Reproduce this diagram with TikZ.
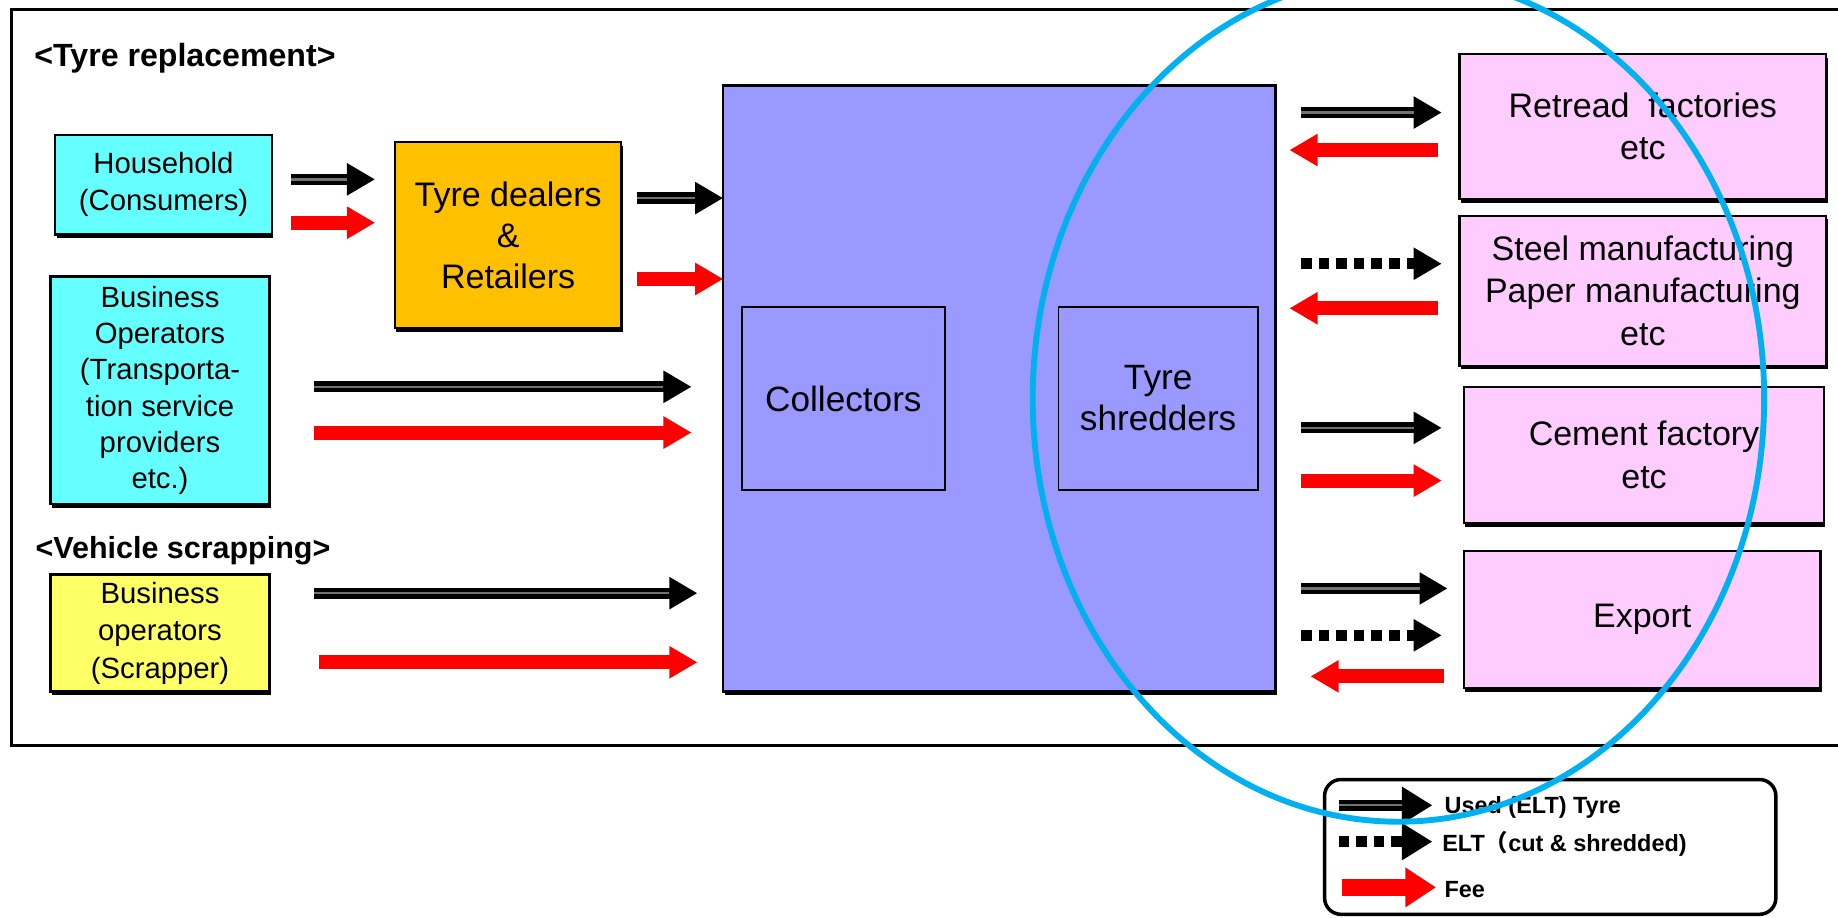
\documentclass[tikz,border=0pt]{standalone}
\usepackage{fontspec}
\setmainfont{Liberation Sans}
\newfontfamily\cjkfont{Noto Sans CJK JP}
\usetikzlibrary{arrows.meta,shadows}
\definecolor{cyanbox}{HTML}{66FFFF}
\definecolor{orangebox}{HTML}{FFC000}
\definecolor{yellowbox}{HTML}{FFFF66}
\definecolor{purplebox}{HTML}{9999FF}
\definecolor{pinkbox}{HTML}{FFCCFF}
\definecolor{ringblue}{HTML}{00B0F0}
\definecolor{feered}{HTML}{FF0000}
\begin{document}
\begin{tikzpicture}[x=0.5pt,y=-0.5pt,
  box/.style={draw=black, line width=1pt, align=center, inner sep=0pt,
    drop shadow={shadow xshift=0.6pt, shadow yshift=-1.6pt, fill=black, opacity=1}},
  inbox/.style={draw=black, line width=0.8pt, align=center, inner sep=0pt, fill=purplebox},
  leftfont/.style={font=\fontsize{12.5}{16}\selectfont},
  rightfont/.style={font=\fontsize{14.5}{18}\selectfont},
  usedarr/.style={draw=black, line width=4.8pt, -{Triangle[length=12pt,width=13pt]}},
  stripe/.style={draw=black!55, line width=1.1pt, shorten >=12pt},
  feearr/.style={draw=feered, line width=6pt, -{Triangle[length=12pt,width=13pt]}},
  eltarr/.style={draw=black, line width=4.5pt, dash pattern=on 4.5pt off 3pt, -{Triangle[length=12pt,width=13pt]}},
  heading/.style={anchor=west, inner sep=0pt, font=\bfseries\fontsize{13}{15}\selectfont},
  legtext/.style={anchor=west, inner sep=0pt, font=\bfseries\fontsize{10}{12}\selectfont}
]
\useasboundingbox (0,0) rectangle (1568,783);
\clip (0,0) rectangle (1568,783);
\fill[white] (0,0) rectangle (1568,783);

% outer frame
\draw[line width=1.5pt] (10,8) rectangle (1640,636);

% headings
\node[heading, font=\bfseries\fontsize{13.7}{15}\selectfont] (h1) at (29,50) {<Tyre replacement>};
\node[heading] (h2) at (30,470) {<Vehicle scrapping>};

% left boxes
\node[box, leftfont, fill=cyanbox, minimum width=92.5pt, minimum height=42.5pt] (house) at (139.5,157.5) {Household\\(Consumers)};
\node[box, font=\fontsize{14.5}{17.5}\selectfont, fill=orangebox, minimum width=96.5pt, minimum height=79.5pt] (dealer) at (433.5,200.5) {Tyre dealers\\\&\\Retailers};
\node[box, font=\fontsize{12.5}{15.5}\selectfont, fill=cyanbox, minimum width=93.5pt, minimum height=97pt] (busop) at (136.5,333) {Business\\Operators\\(Transporta-\\tion service\\providers\\etc.)};
\node[box, leftfont, fill=yellowbox, minimum width=93.5pt, minimum height=50pt] (scrap) at (136.5,540) {Business\\operators\\(Scrapper)};

% central box
\node[box, fill=purplebox, minimum width=235.5pt, minimum height=258.5pt] (big) at (852.5,331.5) {};
\node[inbox, font=\fontsize{15}{17.5}\selectfont, minimum width=86.5pt, minimum height=78pt] (coll) at (719.5,340) {Collectors};
\node[inbox, font=\fontsize{15}{17.5}\selectfont, minimum width=85pt, minimum height=78pt] (shred) at (988,340) {Tyre\\shredders};

% right boxes
\node[box, rightfont, fill=pinkbox, minimum width=156.5pt, minimum height=62pt] (retread) at (1401.5,108) {Retread\ \ factories\\etc};
\node[box, rightfont, fill=pinkbox, minimum width=156.5pt, minimum height=64pt] (steel) at (1401.5,248) {Steel manufacturing\\Paper manufacturing\\etc};
\node[box, rightfont, fill=pinkbox, minimum width=153.5pt, minimum height=58pt] (cement) at (1402.5,388) {Cement factory\\etc};
\node[box, rightfont, fill=pinkbox, minimum width=152pt, minimum height=58.5pt] (export) at (1401,528.5) {Export};

% arrow end points
\coordinate (a1s) at (248,153); \coordinate (a1e) at (320,153);
\coordinate (a2s) at (248,190); \coordinate (a2e) at (320,190);
\coordinate (a3s) at (543,169); \coordinate (a3e) at (617,169);
\coordinate (a4s) at (543,238); \coordinate (a4e) at (617,238);
\coordinate (a5s) at (268,330); \coordinate (a5e) at (590,330);
\coordinate (a6s) at (268,369); \coordinate (a6e) at (590,369);
\coordinate (a7s) at (268,506); \coordinate (a7e) at (595,506);
\coordinate (a8s) at (272,565); \coordinate (a8e) at (595,565);
\coordinate (r1s) at (1110,96);  \coordinate (r1e) at (1230,96);
\coordinate (r2s) at (1227,128); \coordinate (r2e) at (1100,128);
\coordinate (r3s) at (1110,225); \coordinate (r3e) at (1230,225);
\coordinate (r4s) at (1227,263); \coordinate (r4e) at (1100,263);
\coordinate (r5s) at (1110,365); \coordinate (r5e) at (1230,365);
\coordinate (r6s) at (1110,410); \coordinate (r6e) at (1230,410);
\coordinate (r7s) at (1110,502); \coordinate (r7e) at (1235,502);
\coordinate (r8s) at (1110,542); \coordinate (r8e) at (1230,542);
\coordinate (r9s) at (1232,577); \coordinate (r9e) at (1118,577);

% used tyre arrows
\foreach \n in {a1,a3,a5,a7,r1,r5,r7}{
  \draw[usedarr] (\n s) -- (\n e);
  \draw[stripe, yshift=0.5pt] (\n s) -- (\n e);
}
% fee arrows
\foreach \n in {a2,a4,a6,a8,r2,r4,r6,r9}{
  \draw[feearr] (\n s) -- (\n e);
}
% ELT arrows
\foreach \n in {r3,r8}{
  \draw[eltarr] (\n s) -- (\n e);
}

% legend
\node[draw=black, line width=1.5pt, rounded corners=7pt, minimum width=192.5pt, minimum height=57.5pt] (legend) at (1322.5,722.5) {};
\coordinate (l1s) at (1142,687); \coordinate (l1e) at (1222,687);
\coordinate (l2s) at (1142,718); \coordinate (l2e) at (1222,718);
\coordinate (l3s) at (1145,757); \coordinate (l3e) at (1225,757);
\draw[draw=black, line width=4.5pt, -{Triangle[length=13pt,width=15pt]}] (l1s) -- (l1e);
\draw[black!55, line width=1pt, shorten >=13pt, yshift=0.5pt] (l1s) -- (l1e);
\draw[draw=black, line width=4.5pt, dash pattern=on 4.5pt off 3pt, -{Triangle[length=13pt,width=15pt]}] (l2s) -- (l2e);
\draw[draw=feered, line width=7pt, -{Triangle[length=13pt,width=16pt]}] (l3s) -- (l3e);
\node[legtext] (lt1) at (1232,689) {Used (ELT) Tyre};
\node[legtext] (lt2) at (1230,720) {ELT{\cjkfont （}cut \& shredded)};
\node[legtext] (lt3) at (1232,759) {Fee};

% blue ring
\draw[ringblue, line width=2.5pt] (1193,340) ellipse [x radius=312, y radius=361];
\end{tikzpicture}
\end{document}
